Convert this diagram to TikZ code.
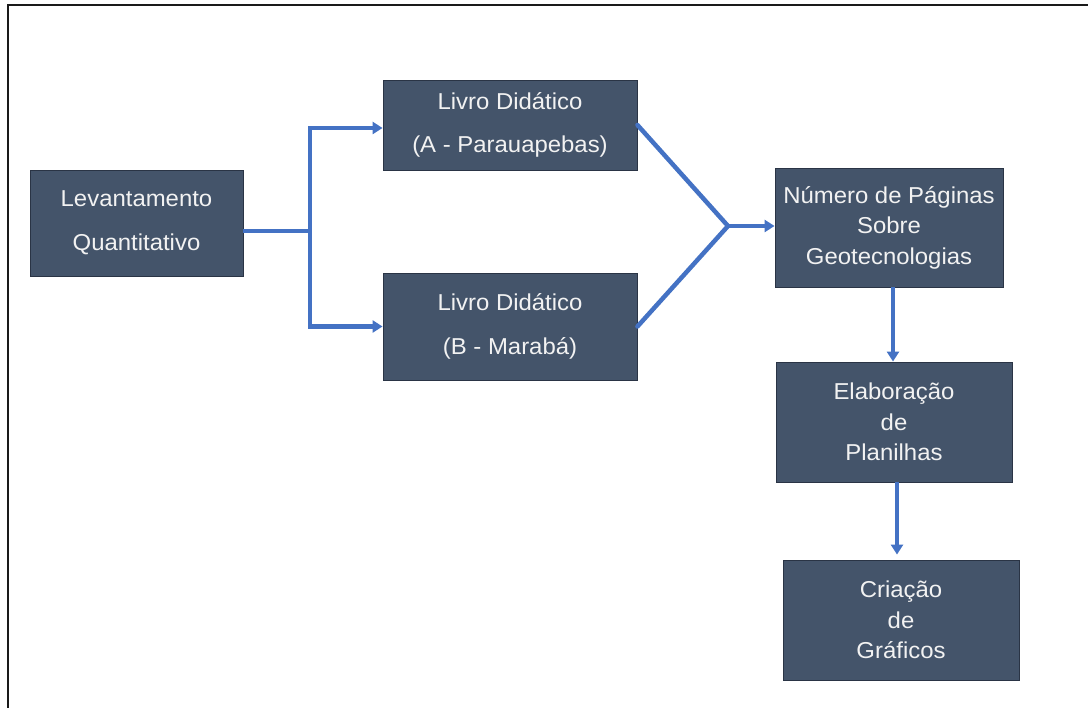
\documentclass[tikz,border=0pt]{standalone}
\usepackage{fontspec}
\setmainfont[FakeStretch=1.04]{Liberation Sans}
\usetikzlibrary{arrows.meta}
\definecolor{boxfill}{HTML}{44546A}
\definecolor{boxline}{HTML}{2A3445}
\definecolor{arrowblue}{HTML}{4472C4}
\definecolor{frameline}{HTML}{1A1A1A}
\tikzset{
  flowbox/.style={rectangle, fill=boxfill, draw=boxline, line width=0.9pt,
    text=white!95!black, align=center, inner sep=0pt,
    font=\fontsize{23}{30.5}\selectfont},
  conn/.style={draw=arrowblue, line width=4.5pt},
  arr/.style={conn, -{Triangle[length=10pt,width=12pt]}},
}
\begin{document}
\begin{tikzpicture}[x=1pt,y=-1pt]
\useasboundingbox (0,0) rectangle (1088,708);
\fill[white] (0,0) rectangle (1088,708);
\draw[frameline, line width=1.5pt] (8,708) -- (8,5) -- (1088,5);

\node[flowbox, minimum width=213pt, minimum height=106pt] (lev) at (136.5,223) {Levantamento\\[14pt]Quantitativo};
\node[flowbox, minimum width=254pt, minimum height=90pt] (la) at (510,125) {Livro Did\'atico\\[13pt](A - Parauapebas)};
\node[flowbox, minimum width=254pt, minimum height=107pt] (lb) at (510,326.5) {Livro Did\'atico\\[13pt](B - Marab\'a)};
\node[flowbox, minimum width=228pt, minimum height=119pt] (num) at (889,227.5) {N\'umero de P\'aginas\\Sobre\\Geotecnologias};
\node[flowbox, minimum width=236pt, minimum height=120pt] (ela) at (894,422) {Elabora\c{c}\~ao\\de\\Planilhas};
\node[flowbox, minimum width=236pt, minimum height=120pt] (cri) at (901,620) {Cria\c{c}\~ao\\de\\Gr\'aficos};

\coordinate (j1) at (310,231);
\coordinate (j2) at (728,226);

\draw[conn] ([yshift=-8pt]lev.east) -- (j1);
\draw[arr] (j1) |- ([yshift=-3pt]la.west);
\draw[arr] (j1) |- (lb.west);

\draw[conn, line cap=round] (la.east) -- (j2) -- (lb.east);
\draw[arr] (j2) -- (num.west |- j2);

\draw[arr] ([xshift=4pt]num.south) -- ([xshift=-1pt]ela.north);
\draw[arr] ([xshift=3pt]ela.south) -- ([xshift=-4pt,yshift=5pt]cri.north);
\end{tikzpicture}
\end{document}
